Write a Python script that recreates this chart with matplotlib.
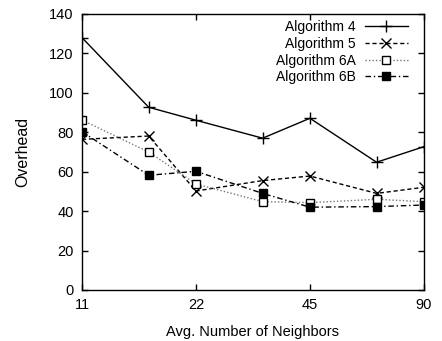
import matplotlib
matplotlib.use("Agg")
import matplotlib.pyplot as plt
from matplotlib.ticker import FixedLocator, FixedFormatter, NullLocator

plt.rcParams['font.family'] = ['Liberation Sans', 'DejaVu Sans']

neighbors = [11.25, 16.875, 22.5, 33.75, 45, 67.5, 90]
alg4 = [128, 92.7, 86.1, 77, 87.1, 64.8, 72.7]
alg5 = [76.4, 78.1, 50.2, 55.5, 57.8, 49, 52.1]
alg6a = [86.2, 70, 53.8, 44.8, 44.3, 46, 44.8]
alg6b = [80.3, 58.2, 60.2, 49, 42, 42.3, 43.1]
xtick_pos = [11.25, 22.5, 45, 90]
xtick_labels = ['11', '22', '45', '90']
yticks = [0, 20, 40, 60, 80, 100, 120, 140]

fig = plt.figure(figsize=(4.42, 3.41), dpi=100)
ax = fig.add_axes([0.1855, 0.1496, 0.7735, 0.8094])

ax.plot(neighbors, alg4, color='black', lw=1.0, ls='-', marker='+', ms=8, mew=1.0, label='Algorithm 4')
ax.plot(neighbors, alg5, color='black', lw=1.0, ls=(0, (3, 2)), marker='x', ms=6.5, mew=1.0, label='Algorithm 5')
ax.plot(neighbors, alg6a, color='#777777', lw=1.0, ls=(0, (1, 1.5)), marker='s', ms=6, mew=1.0,
        mfc='white', mec='black', label='Algorithm 6A')
ax.plot(neighbors, alg6b, color='black', lw=1.0, ls=(0, (4, 2, 1, 2)), marker='s', ms=6, mew=1.0,
        mfc='black', mec='black', label='Algorithm 6B')

ax.set_xscale('log', base=2)
ax.set_xlim(11.25, 90)
ax.set_ylim(0, 140)
ax.xaxis.set_major_locator(FixedLocator(xtick_pos))
ax.xaxis.set_major_formatter(FixedFormatter(xtick_labels))
ax.xaxis.set_minor_locator(NullLocator())
ax.set_yticks(yticks)
ax.tick_params(direction='in', top=True, right=True, length=4.5, width=1, labelsize=10.5, pad=6)
for s in ax.spines.values():
    s.set_linewidth(1.0)

ax.set_xlabel('Avg. Number of Neighbors', fontsize=10.5, labelpad=9)
ax.set_ylabel('Overhead', fontsize=11.5)
ax.yaxis.set_label_coords(-0.152, 0.5)

ax.legend(loc='upper right', frameon=False, markerfirst=False, fontsize=10,
          handlelength=3.1, handletextpad=0.65, labelspacing=0.2, borderaxespad=0, borderpad=0,
          bbox_to_anchor=(408 / 442, 1 - 20 / 341), bbox_transform=fig.transFigure)

fig.savefig('out.png', dpi=100)
